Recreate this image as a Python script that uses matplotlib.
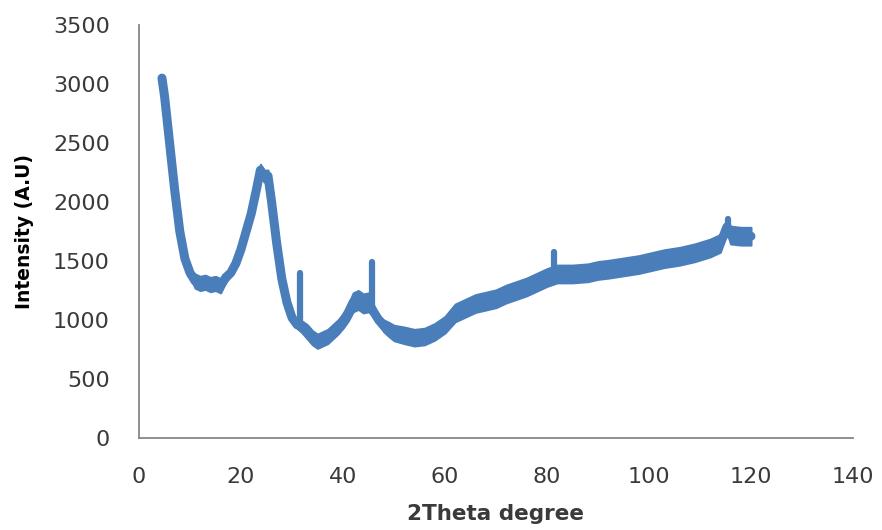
import matplotlib

matplotlib.use("Agg")
import matplotlib.pyplot as plt
import numpy as np

TWO_THETA = [
    4.5, 5, 6, 7, 8, 9, 10, 11, 12, 13, 14, 15, 16, 17, 18, 19, 20, 21, 22,
    23, 23.8, 24.5, 25.3, 26, 27, 28, 29, 30, 31, 32, 33, 34, 35, 36,
    37, 38, 39, 40, 41, 42, 43, 44, 45, 46, 47, 48, 49, 50, 52, 54, 56,
    58, 60, 62, 64, 66, 68, 70, 72, 74, 76, 78, 80, 82, 85,
    88, 90, 92, 95, 98, 100, 103, 106, 109, 112, 114, 115.3, 116, 118, 120,
]
INTENSITY = [
    3050, 2900, 2500, 2100, 1750, 1520, 1400, 1330, 1310, 1320, 1300, 1310,
    1290, 1360, 1400, 1480, 1600, 1750, 1900, 2100, 2270, 2220, 2220, 2000,
    1650, 1350, 1150, 1020, 960, 940, 900, 850, 820, 840, 860, 900, 940,
    990, 1060, 1150, 1170, 1140, 1150, 1070, 1000, 950, 920, 890, 870,
    850, 860, 900, 960, 1060, 1100, 1140, 1160, 1180, 1220, 1250, 1280, 1320,
    1360, 1390, 1390, 1400, 1420, 1430, 1450, 1470, 1490, 1520, 1540, 1570,
    1610, 1650, 1790, 1720, 1710, 1710,
]
# half height of the noise band around the mean trace
NOISE_SPREAD = [
    0, 0, 0, 0, 0, 0, 30, 60, 60, 60, 60, 60,
    60, 40, 30, 30, 30, 30, 30, 30, 50, 50, 50, 15,
    15, 15, 15, 20, 30, 50, 60, 60, 60, 60, 60, 60, 60,
    60, 70, 80, 80, 80, 80, 40, 40, 50, 60, 65, 70,
    70, 70, 70, 70, 75, 75, 75, 75, 75, 75, 75, 75, 75,
    75, 75, 75, 75, 75, 75, 75, 75, 75, 75, 75, 75,
    75, 75, 50, 75, 75, 75,
]
# sharp reflections standing out of the band
PEAK_POS = [31.6, 45.7, 81.3, 115.4]
PEAK_BASE = [960, 1100, 1400, 1750]
PEAK_TOP = [1400, 1490, 1580, 1860]

X_TICKS = [0, 20, 40, 60, 80, 100, 120, 140]
Y_TICKS = [0, 500, 1000, 1500, 2000, 2500, 3000, 3500]

LINE_COLOR = "#4a7ebb"
TEXT_COLOR = "#3a3a3a"

fig = plt.figure(figsize=(8.82, 5.30), dpi=100)
ax = fig.add_axes([0.1576, 0.1736, 0.8095, 0.7792])

theta = np.array(TWO_THETA)
mean = np.array(INTENSITY)
spread = np.array(NOISE_SPREAD)
ax.fill_between(theta, mean - spread, mean + spread, facecolor=LINE_COLOR,
                edgecolor=LINE_COLOR, linewidth=1.5)
ax.plot(theta, mean, color=LINE_COLOR, linewidth=6.5,
        solid_joinstyle="round", solid_capstyle="round")
for pos, base, top in zip(PEAK_POS, PEAK_BASE, PEAK_TOP):
    ax.plot([pos, pos], [base, top], color=LINE_COLOR, linewidth=4.5,
            solid_capstyle="round")

ax.set_xlim(0, 140)
ax.set_ylim(0, 3500)
ax.set_xticks(X_TICKS)
ax.set_yticks(Y_TICKS)
ax.tick_params(length=0, labelsize=16, colors=TEXT_COLOR, pad=21)

ax.spines["top"].set_visible(False)
ax.spines["right"].set_visible(False)
for side in ("left", "bottom"):
    ax.spines[side].set_color("#868686")
    ax.spines[side].set_linewidth(1.3)

ax.set_xlabel("2Theta degree", fontsize=15.5, fontweight="bold", color=TEXT_COLOR)
ax.set_ylabel("Intensity (A.U)", fontsize=13.5, fontweight="bold", color="#000000")
ax.xaxis.set_label_coords(0.5, -0.16)
ax.yaxis.set_label_coords(-0.147, 0.5)

fig.savefig("out.png", dpi=100)
